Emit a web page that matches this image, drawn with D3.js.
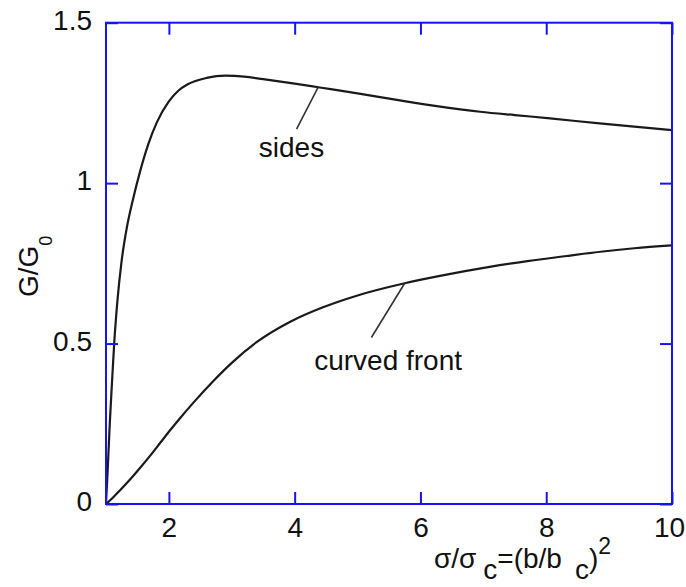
<!DOCTYPE html>
<html>
<head>
<meta charset="utf-8">
<script src="https://cdn.jsdelivr.net/npm/d3@7"></script>
<style>
  html, body { margin: 0; padding: 0; background: #fff; }
  svg { display: block; font-family: "Liberation Sans", Arial, sans-serif; }
</style>
</head>
<body>
<svg id="chart" width="686" height="587"></svg>
<script>
// Normalised stress ratio sigma/sigma_c on x, G/G0 on y
const sidesX = [1.0, 1.03, 1.06, 1.09, 1.13, 1.18, 1.25, 1.33, 1.43, 1.54, 1.67, 1.81, 2.0, 2.15, 2.3, 2.6, 2.9, 3.2, 3.5, 4.0, 4.4, 5.0, 5.6, 6.26, 6.95, 7.5, 8.06, 8.85, 9.4, 10.0];
const sidesY = [0, 0.12, 0.25, 0.36, 0.5, 0.63, 0.76, 0.86, 0.95, 1.035, 1.12, 1.19, 1.255, 1.288, 1.308, 1.328, 1.335, 1.332, 1.324, 1.31, 1.298, 1.28, 1.26, 1.24, 1.2225, 1.212, 1.202, 1.186, 1.176, 1.165];

const frontX = [1.0, 1.1, 1.22, 1.4, 1.54, 1.7, 1.86, 2.0, 2.18, 2.39, 2.7, 3.0, 3.4, 3.93, 4.45, 5.0, 5.75, 6.31, 7.1, 7.7, 8.32, 8.9, 9.4, 10.0];
const frontY = [0, 0.018, 0.042, 0.08, 0.112, 0.15, 0.19, 0.225, 0.268, 0.316, 0.382, 0.44, 0.505, 0.568, 0.613, 0.65, 0.688, 0.711, 0.739, 0.757, 0.773, 0.787, 0.797, 0.806];

const xTicks = [2, 4, 6, 8, 10];
const xTickLabels = ["2", "4", "6", "8", "10"];
const yTicks = [0, 0.5, 1, 1.5];
const yTickLabels = ["0", "0.5", "1", "1.5"];

// Curve labels with leader lines (data coordinates)
const labelNames = ["sides", "curved front"];
const labelAt = [[3.43, 1.083], [4.31, 0.4176]];
const leaderFrom = [[4.03, 1.168], [5.22, 0.519]];
const leaderTo = [[4.37, 1.298], [5.75, 0.688]];

const svg = d3.select("#chart");
const plotLeft = 106, plotRight = 672, plotTop = 22.7, plotBottom = 504;
const x = d3.scaleLinear().domain([1, 10]).range([plotLeft, plotRight]);
const y = d3.scaleLinear().domain([0, 1.5]).range([plotBottom, plotTop]);

const axisColor = "#1414f5";
const textColor = "#111";
const fontSize = 28;

// Curves
svg.append("defs").append("clipPath").attr("id", "plot-clip")
  .append("rect").attr("x", plotLeft).attr("y", plotTop)
  .attr("width", plotRight - plotLeft).attr("height", plotBottom - plotTop);

const line = d3.line()
  .x(d => x(d[0])).y(d => y(d[1]))
  .curve(d3.curveMonotoneX);

const series = [
  d3.zip(sidesX, sidesY),
  d3.zip(frontX, frontY)
];
svg.append("g").attr("clip-path", "url(#plot-clip)")
  .selectAll("path").data(series).join("path")
  .attr("d", line)
  .attr("fill", "none")
  .attr("stroke", "#1a1a1a")
  .attr("stroke-width", 2.2)
  .attr("stroke-linejoin", "round");

// Axes with inward ticks on all four sides
function styleAxis(g) {
  g.select(".domain").remove();
  g.selectAll(".tick line").attr("stroke", axisColor).attr("stroke-width", 2);
  g.selectAll(".tick text")
    .attr("fill", textColor)
    .attr("font-size", fontSize)
    .attr("font-family", "'Liberation Sans', Arial, sans-serif");
}

const xAxisG = svg.append("g").attr("transform", `translate(0,${plotBottom})`)
  .call(d3.axisBottom(x).tickValues(xTicks)
    .tickFormat((d, i) => xTickLabels[i])
    .tickSizeInner(-12).tickSizeOuter(0).tickPadding(13))
  .call(styleAxis);
// keep the last label inside the page edge
xAxisG.selectAll(".tick text").filter(d => d === 10).attr("dx", -3);

svg.append("g").attr("transform", `translate(0,${plotTop})`)
  .call(d3.axisTop(x).tickValues(xTicks).tickFormat("")
    .tickSizeInner(-12).tickSizeOuter(0))
  .call(styleAxis);

svg.append("g").attr("transform", `translate(${plotLeft},0)`)
  .call(d3.axisLeft(y).tickValues(yTicks)
    .tickFormat((d, i) => yTickLabels[i])
    .tickSizeInner(-12).tickSizeOuter(0).tickPadding(14))
  .call(styleAxis)
  .selectAll(".tick text").attr("dy", "0.24em");

svg.append("g").attr("transform", `translate(${plotRight},0)`)
  .call(d3.axisRight(y).tickValues(yTicks).tickFormat("")
    .tickSizeInner(-12).tickSizeOuter(0))
  .call(styleAxis);

// Frame
svg.append("rect")
  .attr("x", plotLeft).attr("y", plotTop)
  .attr("width", plotRight - plotLeft).attr("height", plotBottom - plotTop)
  .attr("fill", "none").attr("stroke", axisColor).attr("stroke-width", 2);

// Leader lines and curve labels
svg.append("g").selectAll("line").data(labelNames).join("line")
  .attr("x1", (d, i) => x(leaderFrom[i][0])).attr("y1", (d, i) => y(leaderFrom[i][1]))
  .attr("x2", (d, i) => x(leaderTo[i][0])).attr("y2", (d, i) => y(leaderTo[i][1]))
  .attr("stroke", "#333").attr("stroke-width", 1.6);

svg.append("g").selectAll("text").data(labelNames).join("text")
  .attr("x", (d, i) => x(labelAt[i][0])).attr("y", (d, i) => y(labelAt[i][1]))
  .attr("font-size", fontSize).attr("fill", textColor)
  .text(d => d);

// X axis title: σ/σc=(b/bc)²
const xt = svg.append("text")
  .attr("x", 434).attr("y", 568)
  .attr("font-size", fontSize).attr("fill", textColor);
xt.append("tspan").text("σ/σ");
xt.append("tspan").attr("dx", 7).attr("dy", 11).text("c");
xt.append("tspan").attr("dy", -11).text("=(b/b");
xt.append("tspan").attr("dx", 13).attr("dy", 11).text("c");
xt.append("tspan").attr("dy", -11).text(")");
xt.append("tspan").attr("dy", -14).attr("font-size", 23).text("2");

// Y axis title: G/G0
const yt = svg.append("text")
  .attr("transform", "translate(38,297) rotate(-90)")
  .attr("font-size", fontSize).attr("fill", textColor);
yt.append("tspan").text("G/G");
yt.append("tspan").attr("dy", 14).attr("font-size", 18).text("0");
</script>
</body>
</html>
